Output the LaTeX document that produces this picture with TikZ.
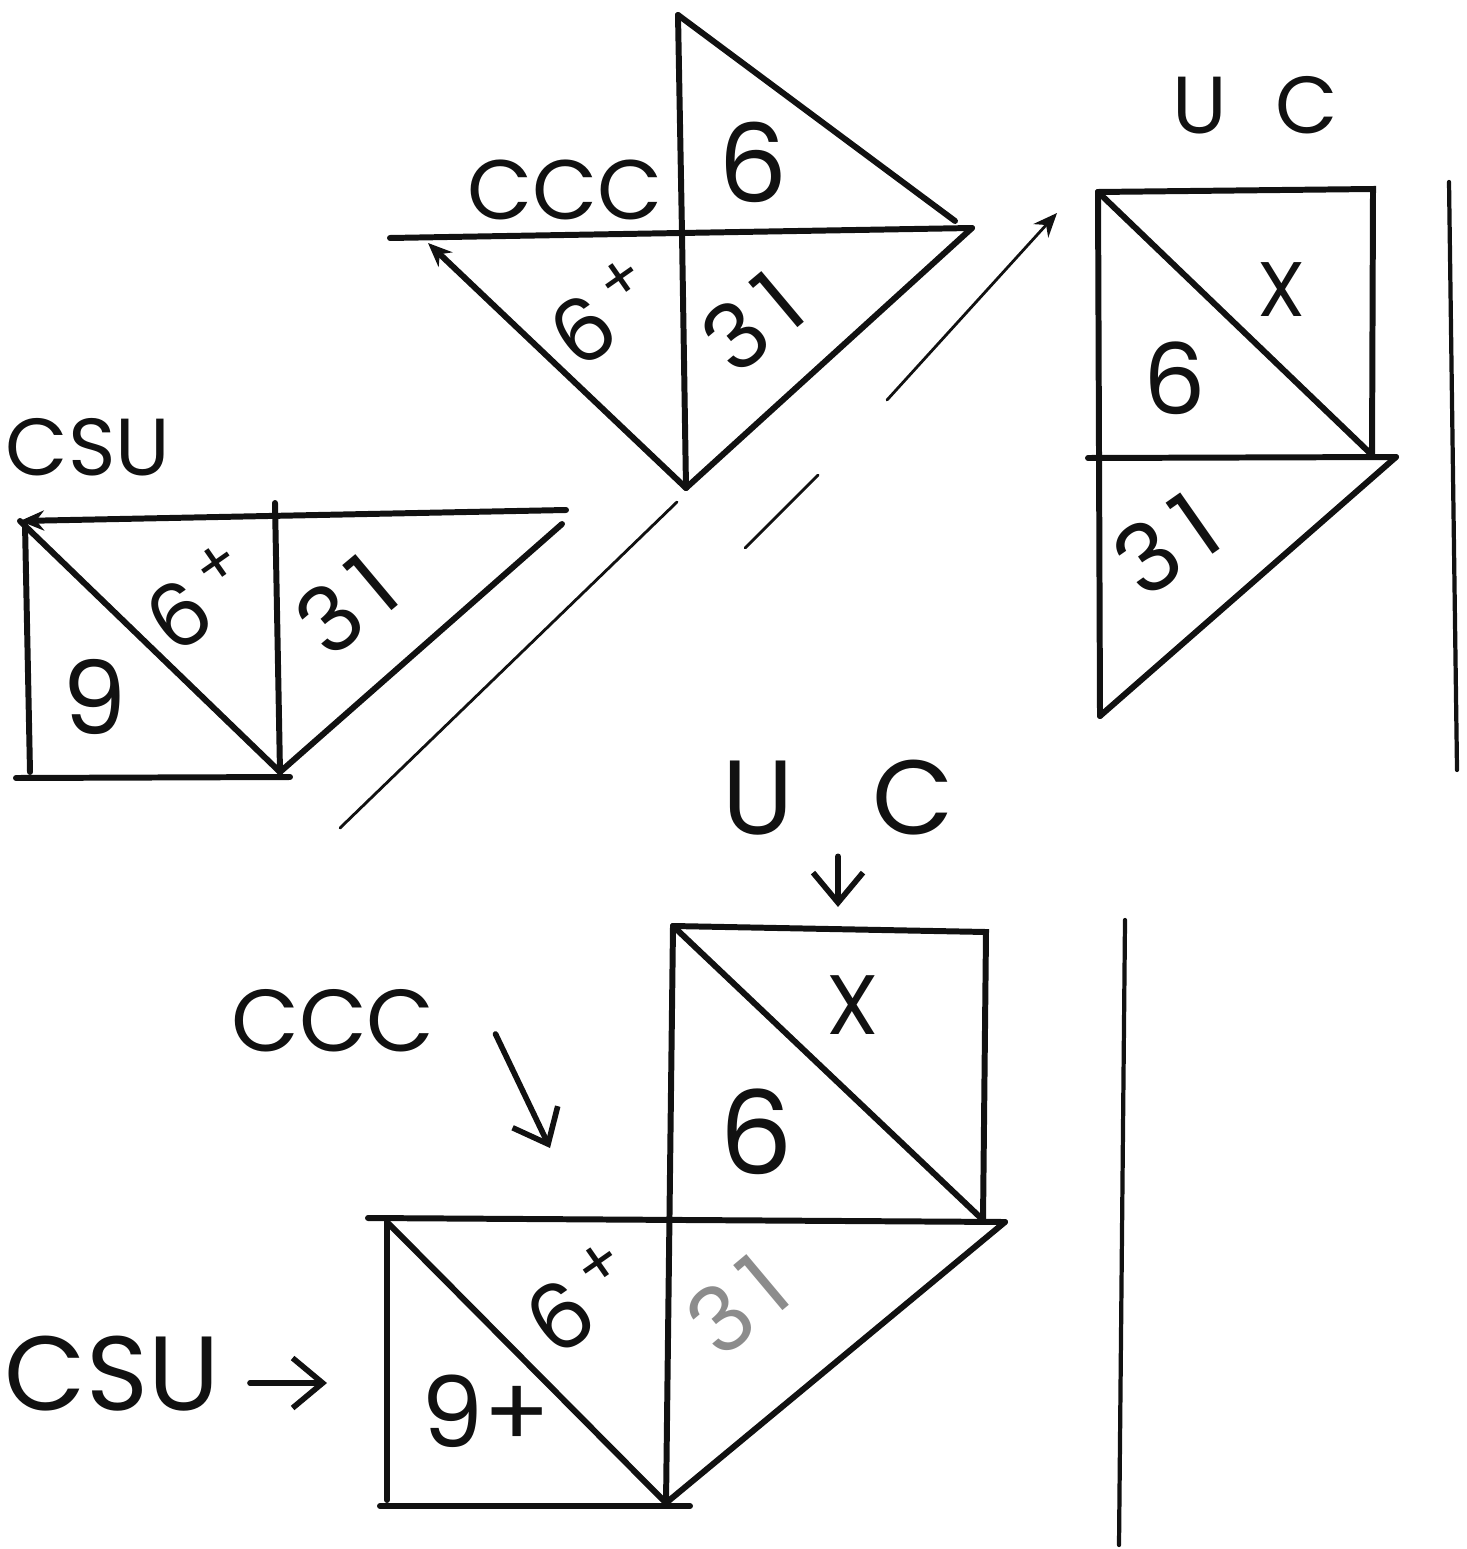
\documentclass[tikz,border=0pt]{standalone}
\usepackage{fontspec}
\setmainfont{Poppins}
\usetikzlibrary{arrows.meta,positioning}
\definecolor{ink}{HTML}{111111}
\definecolor{pencil}{HTML}{8C8C8C}
\tikzset{
  edge/.style={draw=ink, line width=1.7pt, line cap=round},
  guide/.style={draw=ink, line width=0.8pt, line cap=round},
  bar/.style={draw=ink, line width=1.2pt, line cap=round},
  hand/.style={text=ink, inner sep=0pt, font=\fontsize{#1}{#1}\selectfont},
  hand/.default=24,
  pointer/.style={-{Straight Barb[length=3mm,width=5mm]}, draw=ink, line width=1.6pt, line cap=round},
  tip/.style={-{Stealth[length=2.4mm,width=2mm]}}
}
\begin{document}
\begin{tikzpicture}[x=0.01cm, y=-0.01cm]
  \useasboundingbox (0,0) rectangle (1466,1549);

  \coordinate (cA) at (678,15);
  \coordinate (cT) at (955,221);
  \coordinate (cO) at (682,234);
  \coordinate (cL) at (390,238);
  \coordinate (cR) at (972,228);
  \coordinate (cD) at (428,243);
  \coordinate (cB) at (686,488);
  \draw[edge] (cA) -- (cO) -- (cB);
  \draw[edge] (cA) -- (cT);
  \draw[edge] (cL) -- (cR);
  \draw[edge, tip] (cB) -- (cD);
  \draw[edge] (cR) -- (cB);
  \node[hand=24] (ccc1) at (565,190) {CCC};
  \node[hand=31] (six1) at (753,162) {6};
  \node[hand=25, rotate=35] (sixp1) at (604,312) {6\kern.12em\textsuperscript{+}};
  \node[hand=26, rotate=40] (tone1) at (752,322) {3\kern.15em 1};

  \coordinate (uTL) at (1098,192);
  \coordinate (uTR) at (1373,189);
  \coordinate (uRM) at (1372,455);
  \coordinate (uLM) at (1088,458);
  \coordinate (uRX) at (1396,457);
  \coordinate (uBL) at (1100,716);
  \draw[edge] (uTL) -- (uTR) -- (uRM);
  \draw[edge] (uTL) -- (uBL);
  \draw[edge] (uTL) -- (uRM);
  \draw[edge] (uLM) -- (uRX);
  \draw[edge] (uRX) -- (uBL);
  \node[hand=23] (uc1) at (1255,105) {U\hspace{0.6em}C};
  \node[hand=22] (ex1) at (1281,290) {X};
  \node[hand=28] (six2) at (1175,378) {6};
  \node[hand=27, rotate=35] (tone2) at (1166,544) {3\kern.15em 1};
  \coordinate (bar1t) at (1449,182);
  \coordinate (bar1b) at (1457,770);
  \draw[bar] (bar1t) -- (bar1b);

  \coordinate (sTL) at (20,521);
  \coordinate (sTR) at (566,510);
  \coordinate (sLT) at (25,524);
  \coordinate (sBL) at (30,772);
  \coordinate (sMT) at (275,503);
  \coordinate (sC) at (280,772);
  \coordinate (sBB) at (16,778);
  \coordinate (sBR) at (290,777);
  \coordinate (sRT) at (562,524);
  \draw[edge, tip] (sTR) -- (sTL);
  \draw[edge] (sLT) -- (sBL);
  \draw[edge] (sMT) -- (sC);
  \draw[edge] (sBB) -- (sBR);
  \draw[edge] (sTL) -- (sC);
  \draw[edge] (sC) -- (sRT);
  \node[hand=23] (csu1) at (88,447) {CSU};
  \node[hand=25, rotate=35] (sixp2) at (200,597) {6\kern.12em\textsuperscript{+}};
  \node[hand=26, rotate=40] (tone3) at (346,605) {3\kern.15em 1};
  \node[hand=29] (nine1) at (95,697) {9};

  \coordinate (g1a) at (745,548);
  \coordinate (g1b) at (818,475);
  \coordinate (g1c) at (887,400);
  \coordinate (g1d) at (1057,213);
  \draw[guide] (g1a) -- (g1b);
  \draw[guide, tip] (g1c) -- (g1d);
  \coordinate (g2a) at (340,828);
  \coordinate (g2b) at (677,502);
  \draw[guide] (g2a) -- (g2b);

  \coordinate (qTL) at (673,926);
  \coordinate (qTR) at (986,932);
  \coordinate (qRB) at (983,1220);
  \coordinate (qRX) at (1005,1222);
  \coordinate (qHL) at (368,1218);
  \coordinate (qBC) at (666,1503);
  \coordinate (qSL) at (387,1222);
  \coordinate (qSB) at (387,1500);
  \coordinate (qB1) at (380,1506);
  \coordinate (qB2) at (690,1506);
  \draw[edge] (qTL) -- (qTR) -- (qRB);
  \draw[edge] (qTL) -- (qBC);
  \draw[edge] (qTL) -- (qRB);
  \draw[edge] (qHL) -- (qRX);
  \draw[edge] (qRX) -- (qBC);
  \draw[edge] (qSL) -- (qSB);
  \draw[edge] (qB1) -- (qB2);
  \draw[edge] (qSL) -- (qBC);
  \node[hand=30] (uc2) at (838,798) {U\hspace{0.75em}C};
  \coordinate (ucTip) at (838,907);
  \draw[pointer, shorten <=2mm] (uc2) -- (ucTip);
  \node[hand=25] (ccc2) at (333,1021) {CCC};
  \coordinate (cccTip) at (550,1148);
  \draw[pointer] ([shift={(60,13)}]ccc2.east) -- (cccTip);
  \node[hand=30] (csu2) at (112,1374) {CSU};
  \coordinate (csuTip) at (327,1383);
  \draw[pointer] ([shift={(30,9)}]csu2.east) -- (csuTip);
  \node[hand=24] (ex2) at (853,1005) {X};
  \node[hand=33] (six3) at (756,1132) {6};
  \node[hand=26, rotate=35] (sixp3) at (582,1298) {6\kern.12em\textsuperscript{+}};
  \node[hand=26, rotate=40, text=pencil] (tone4) at (737,1305) {3\kern.15em 1};
  \node[hand=28] (nine2) at (486,1411) {9+};
  \coordinate (bar2t) at (1125,920);
  \coordinate (bar2b) at (1119,1545);
  \draw[bar] (bar2t) -- (bar2b);
\end{tikzpicture}
\end{document}
